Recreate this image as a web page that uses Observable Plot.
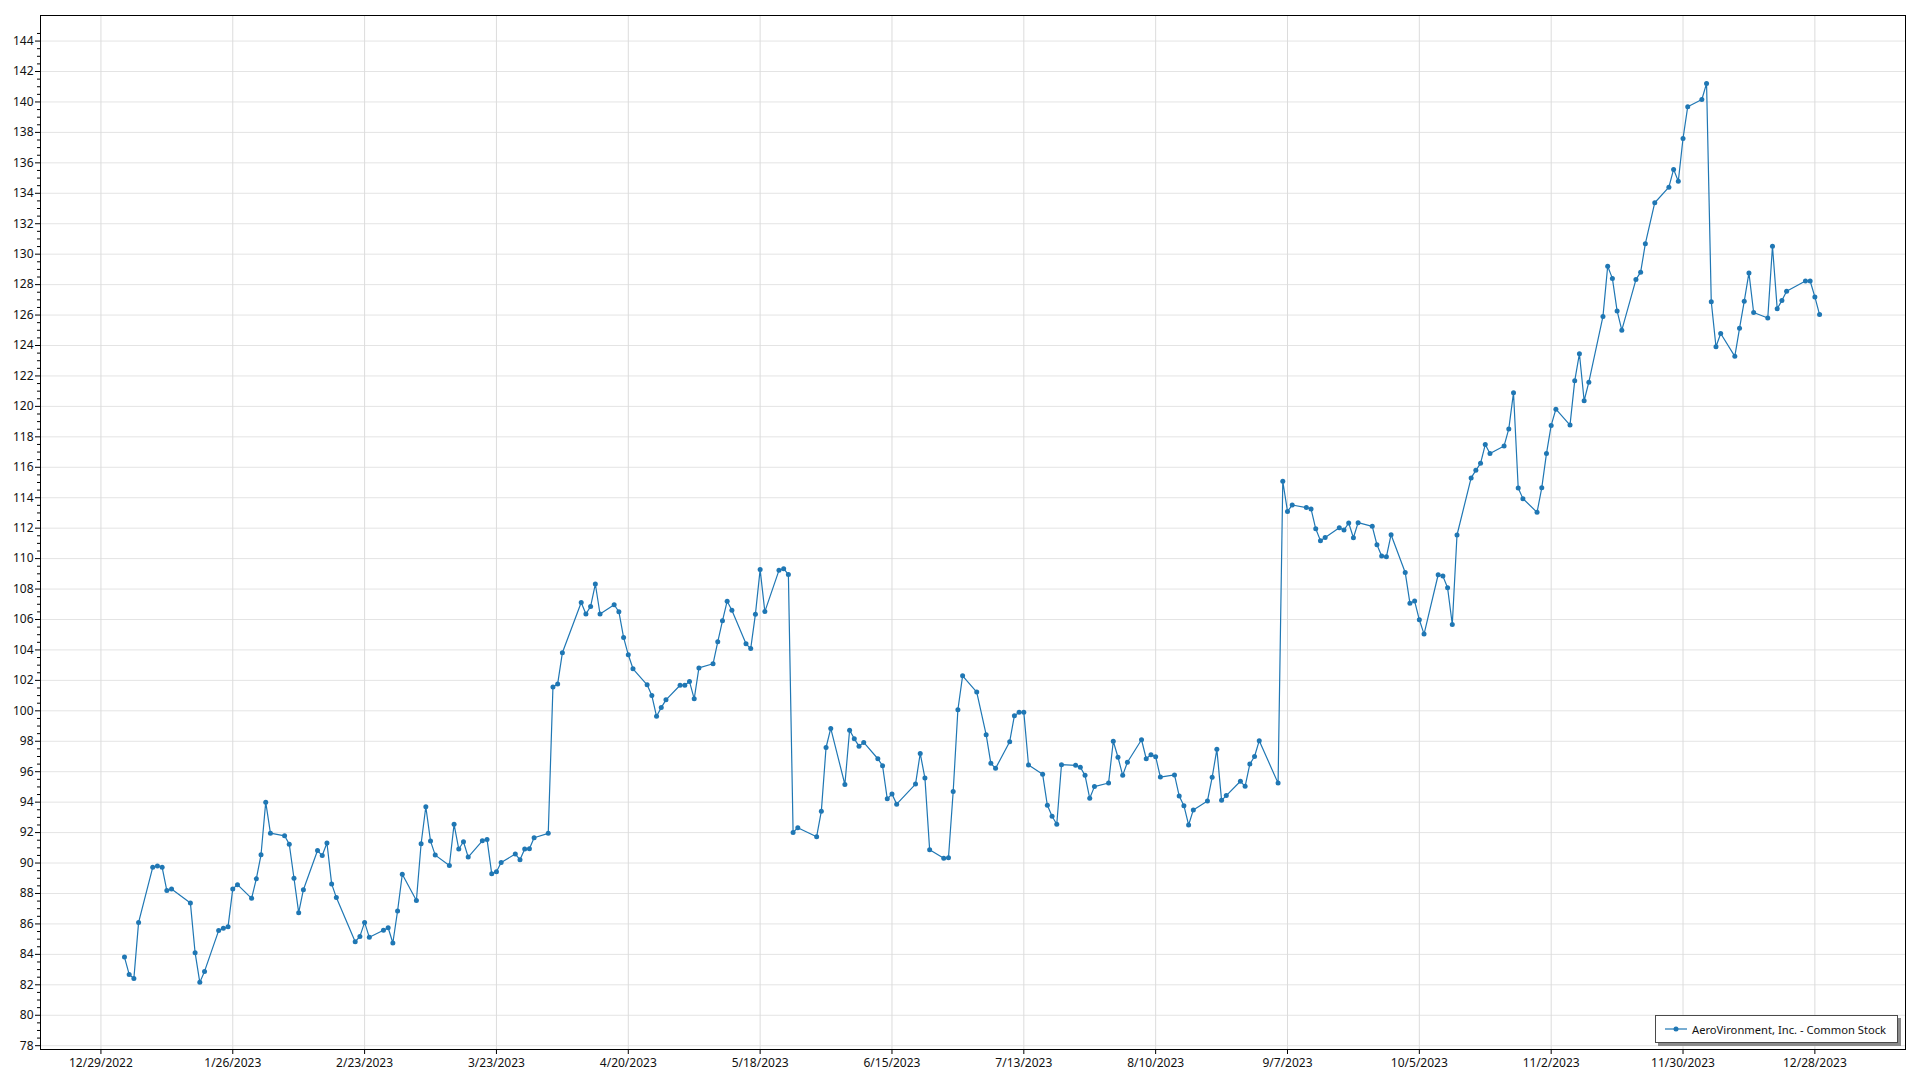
<!DOCTYPE html>
<html>
<head>
<meta charset="utf-8">
<script src="https://cdn.jsdelivr.net/npm/d3@7"></script>
<script src="https://cdn.jsdelivr.net/npm/@observablehq/plot@0.6"></script>
<style>
  html, body { margin: 0; padding: 0; background: #fff; }
  #wrap { position: relative; width: 1920px; height: 1080px; }
  #legend {
    position: absolute; left: 1655px; top: 1015px; width: 241px; height: 26px;
    border: 1px solid #4a4a4a; background: #fff; box-shadow: 3px 3px 0 #8a8a8a;
    font-family: "Noto Sans", sans-serif; font-size: 11.2px; color: #111;
    display: flex; align-items: center; white-space: nowrap; overflow: hidden;
  }
  #legend svg { margin-left: 9px; margin-right: 5px; flex: none; }
</style>
</head>
<body>
<div id="wrap">
  <div id="chart"></div>
  <div id="legend"><svg width="22" height="10"><line x1="0" x2="22" y1="5" y2="5" stroke="#1f77b4" stroke-width="1.2"/><circle cx="11" cy="5" r="2.5" fill="#1f77b4"/></svg><span>AeroVironment, Inc. - Common Stock</span></div>
</div>
<script>
const seriesName = "AeroVironment, Inc. - Common Stock";

const dates = [
"2023-01-03","2023-01-04","2023-01-05","2023-01-06","2023-01-09","2023-01-10","2023-01-11","2023-01-12","2023-01-13","2023-01-17",
"2023-01-18","2023-01-19","2023-01-20","2023-01-23","2023-01-24","2023-01-25","2023-01-26","2023-01-27","2023-01-30","2023-01-31",
"2023-02-01","2023-02-02","2023-02-03","2023-02-06","2023-02-07","2023-02-08","2023-02-09","2023-02-10","2023-02-13","2023-02-14",
"2023-02-15","2023-02-16","2023-02-17","2023-02-21","2023-02-22","2023-02-23","2023-02-24","2023-02-27","2023-02-28",
"2023-03-01","2023-03-02","2023-03-03","2023-03-06","2023-03-07","2023-03-08","2023-03-09","2023-03-10","2023-03-13","2023-03-14",
"2023-03-15","2023-03-16","2023-03-17","2023-03-20","2023-03-21","2023-03-22","2023-03-23","2023-03-24","2023-03-27","2023-03-28",
"2023-03-29","2023-03-30","2023-03-31",
"2023-04-03","2023-04-04","2023-04-05","2023-04-06","2023-04-10","2023-04-11","2023-04-12","2023-04-13","2023-04-14","2023-04-17",
"2023-04-18","2023-04-19","2023-04-20","2023-04-21","2023-04-24","2023-04-25","2023-04-26","2023-04-27","2023-04-28",
"2023-05-01","2023-05-02","2023-05-03","2023-05-04","2023-05-05","2023-05-08","2023-05-09","2023-05-10","2023-05-11","2023-05-12",
"2023-05-15","2023-05-16","2023-05-17","2023-05-18","2023-05-19","2023-05-22","2023-05-23","2023-05-24","2023-05-25","2023-05-26",
"2023-05-30","2023-05-31",
"2023-06-01","2023-06-02","2023-06-05","2023-06-06","2023-06-07","2023-06-08","2023-06-09","2023-06-12","2023-06-13","2023-06-14",
"2023-06-15","2023-06-16","2023-06-20","2023-06-21","2023-06-22","2023-06-23","2023-06-26","2023-06-27","2023-06-28","2023-06-29",
"2023-06-30",
"2023-07-03","2023-07-05","2023-07-06","2023-07-07","2023-07-10","2023-07-11","2023-07-12","2023-07-13","2023-07-14","2023-07-17",
"2023-07-18","2023-07-19","2023-07-20","2023-07-21","2023-07-24","2023-07-25","2023-07-26","2023-07-27","2023-07-28","2023-07-31",
"2023-08-01","2023-08-02","2023-08-03","2023-08-04","2023-08-07","2023-08-08","2023-08-09","2023-08-10","2023-08-11","2023-08-14",
"2023-08-15","2023-08-16","2023-08-17","2023-08-18","2023-08-21","2023-08-22","2023-08-23","2023-08-24","2023-08-25","2023-08-28",
"2023-08-29","2023-08-30","2023-08-31",
"2023-09-01","2023-09-05","2023-09-06","2023-09-07","2023-09-08","2023-09-11","2023-09-12","2023-09-13","2023-09-14","2023-09-15",
"2023-09-18","2023-09-19","2023-09-20","2023-09-21","2023-09-22","2023-09-25","2023-09-26","2023-09-27","2023-09-28","2023-09-29",
"2023-10-02","2023-10-03","2023-10-04","2023-10-05","2023-10-06","2023-10-09","2023-10-10","2023-10-11","2023-10-12","2023-10-13",
"2023-10-16","2023-10-17","2023-10-18","2023-10-19","2023-10-20","2023-10-23","2023-10-24","2023-10-25","2023-10-26","2023-10-27",
"2023-10-30","2023-10-31",
"2023-11-01","2023-11-02","2023-11-03","2023-11-06","2023-11-07","2023-11-08","2023-11-09","2023-11-10","2023-11-13","2023-11-14",
"2023-11-15","2023-11-16","2023-11-17","2023-11-20","2023-11-21","2023-11-22","2023-11-24","2023-11-27","2023-11-28","2023-11-29",
"2023-11-30",
"2023-12-01","2023-12-04","2023-12-05","2023-12-06","2023-12-07","2023-12-08","2023-12-11","2023-12-12","2023-12-13","2023-12-14",
"2023-12-15","2023-12-18","2023-12-19","2023-12-20","2023-12-21","2023-12-22","2023-12-26","2023-12-27","2023-12-28","2023-12-29"
];

const closes = [
83.82,82.68,82.42,86.10,89.72,89.81,89.72,88.19,88.30,87.38,
84.11,82.16,82.88,85.56,85.71,85.82,88.30,88.58,87.68,88.96,
90.54,94.00,91.96,91.79,91.24,89.00,86.74,88.25,90.82,90.49,
91.32,88.63,87.73,84.83,85.18,86.10,85.12,85.58,85.75,
84.75,86.85,89.26,87.54,91.27,93.70,91.44,90.52,89.84,92.54,
90.92,91.40,90.39,91.46,91.55,89.29,89.43,90.04,90.59,90.22,
90.92,90.94,91.66,
91.95,101.57,101.77,103.81,107.12,106.36,106.86,108.33,106.36,106.97,
106.51,104.82,103.68,102.76,101.71,101.00,99.64,100.21,100.72,
101.68,101.68,101.92,100.79,102.82,103.09,104.53,105.91,107.20,106.61,
104.40,104.09,106.35,109.28,106.52,109.23,109.34,108.95,92.01,92.32,
91.73,93.41,
97.59,98.84,95.16,98.73,98.16,97.68,97.92,96.85,96.39,94.22,
94.53,93.87,95.19,97.20,95.58,90.88,90.31,90.35,94.70,100.07,
102.30,
101.23,98.43,96.55,96.22,97.97,99.68,99.90,99.90,96.44,95.83,
93.79,93.07,92.55,96.46,96.42,96.29,95.76,94.25,95.02,95.26,
98.00,96.95,95.76,96.62,98.10,96.85,97.12,96.99,95.65,95.79,
94.41,93.77,92.50,93.49,94.08,95.63,97.47,94.12,94.43,95.37,
95.04,96.50,97.00,
98.04,95.25,115.08,113.10,113.52,113.35,113.26,111.96,111.18,111.39,
112.03,111.88,112.34,111.37,112.36,112.12,110.91,110.17,110.12,111.57,
109.09,107.07,107.21,105.98,105.04,108.94,108.85,108.08,105.67,111.55,
115.30,115.80,116.26,117.49,116.90,117.40,118.52,120.90,114.64,113.94,
113.04,114.65,
116.90,118.75,119.82,118.77,121.68,123.46,120.37,121.59,125.91,129.21,
128.41,126.27,125.01,128.33,128.82,130.69,133.38,134.40,135.57,134.79,
137.60,
139.69,140.16,141.22,126.88,123.92,124.79,123.29,125.13,126.90,128.77,
126.17,125.81,130.52,126.42,126.95,127.56,128.24,128.24,127.19,126.03
];

const xTickLabels = ["12/29/2022","1/26/2023","2/23/2023","3/23/2023","4/20/2023","5/18/2023","6/15/2023",
  "7/13/2023","8/10/2023","9/7/2023","10/5/2023","11/2/2023","11/30/2023","12/28/2023"];
const yTickValues = d3.range(78, 145, 2);
const yMinorValues = d3.range(78, 145, 0.5).filter(v => v % 2 !== 0);

const parseMDY = s => { const [m, d, y] = s.split("/").map(Number); return new Date(Date.UTC(y, m - 1, d)); };
const xTicks = xTickLabels.map(parseMDY);
const fmt = d => `${d.getUTCMonth() + 1}/${d.getUTCDate()}/${d.getUTCFullYear()}`;

const data = dates.map((d, i) => ({date: new Date(d + "T00:00:00Z"), close: closes[i], series: seriesName}));

const color = "#1f77b4";
const chart = Plot.plot({
  width: 1920,
  height: 1080,
  marginLeft: 40,
  marginRight: 15,
  marginTop: 15,
  marginBottom: 31,
  style: {fontFamily: "'Noto Sans', sans-serif", fontSize: "12px", color: "#111", background: "#fff"},
  x: {type: "utc", domain: [new Date("2022-12-16T04:00:00Z"), new Date("2024-01-16T06:00:00Z")]},
  y: {domain: [77.75, 145.68]},
  marks: [
    Plot.gridY(yTickValues, {stroke: "#e4e4e4", strokeOpacity: 1, strokeWidth: 1}),
    Plot.gridX(xTicks, {stroke: "#dcdcdc", strokeOpacity: 1, strokeWidth: 1}),
    Plot.line(data, {x: "date", y: "close", stroke: color, strokeWidth: 1.2}),
    Plot.dot(data, {x: "date", y: "close", r: 2.5, fill: color, stroke: null}),
    Plot.axisY(yMinorValues, {tickSize: 3, text: null, label: null, stroke: "#000"}),
    Plot.axisY(yTickValues, {tickSize: 5, tickPadding: 2, label: null, stroke: "#000", fill: "#111", fontSize: 12}),
    Plot.axisX(xTicks, {tickSize: 5, tickPadding: 4, tickFormat: fmt, label: null, stroke: "#000", fill: "#111", fontSize: 12}),
    Plot.frame({stroke: "#000", strokeWidth: 1})
  ]
});
document.getElementById("chart").appendChild(chart);
</script>
</body>
</html>
